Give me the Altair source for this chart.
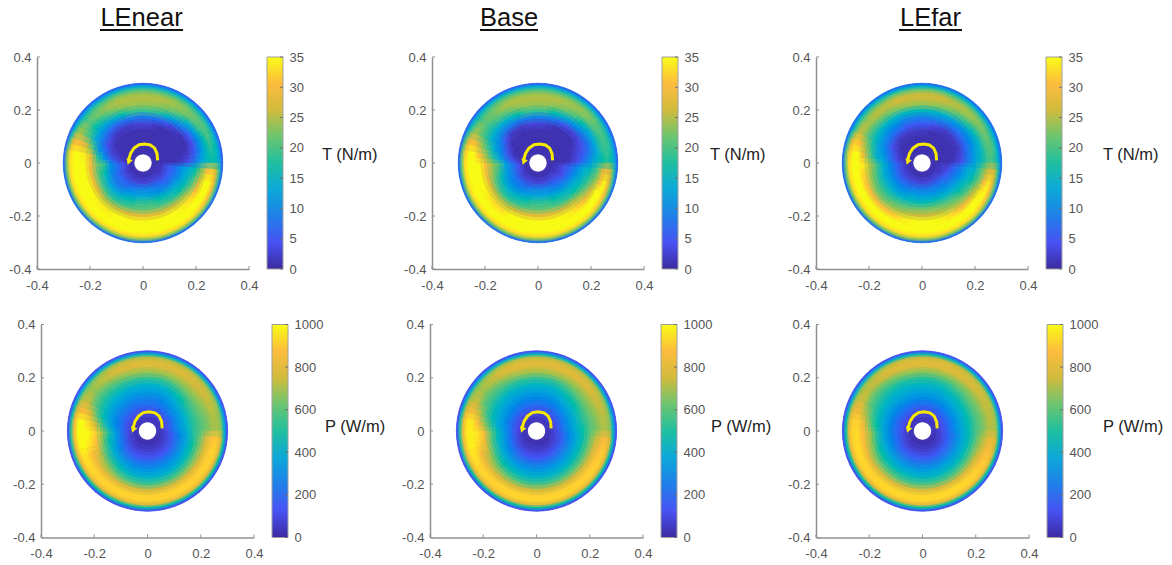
import altair as alt
import pandas as pd

FONT = "Liberation Sans"
# ring edges (radius), 36 sectors of 10 deg clockwise from 12 o'clock
edges = [0.034, 0.055, 0.08, 0.105, 0.13, 0.155, 0.18, 0.205, 0.23, 0.25, 0.265, 0.28, 0.292, 0.301]
parula = ["#3b2a9f", "#4852f4", "#1f80e9", "#0ca8d9", "#1fbfa0", "#6cc56f", "#d1bb3d", "#fdbc3d", "#f9fb15"]
parula_pos = [0, 0.125, 0.25, 0.375, 0.5, 0.625, 0.75, 0.875, 1]
t_stops = [0, 4.375, 8.75, 13.125, 17.5, 21.875, 26.25, 30.625, 35]
p_stops = [0, 125, 250, 375, 500, 625, 750, 875, 1000]
t_ticks = [0, 5, 10, 15, 20, 25, 30, 35]
p_ticks = [0, 200, 400, 600, 800, 1000]
axis_ticks = [-0.4, -0.2, 0, 0.2, 0.4]

arrow_x = [0.055, 0.053, 0.044, 0.028, 0.006, -0.015, -0.034, -0.047, -0.054]
arrow_y = [0.010, 0.035, 0.056, 0.068, 0.072, 0.069, 0.056, 0.036, 0.012]

T_LEnear = [
 [1]*36,
 [1,1,1,1,1,1,1,1,1, 2,2,2,2,3,3,3,3,3, 3,3,3,3,3,3,3,4,4, 2,1,1,1,1,1,1,1,1],
 [1,1,1,1,1,1,1,1,1, 5,5,5,5,6,7,8,9,9, 9,8,7,6,6,6,6,7,7, 3,2,1,1,1,1,1,1,1],
 [1,1,1,1,1,1,1,1,1, 7,7,8,8,9,10,11,12,13, 13,12,11,9,8,8,9,10,11, 6,3,2,1,1,1,1,1,1],
 [3,2,1,1,1,1,1,1,2, 11,11,12,14,15,16,17,18,18, 18,17,16,14,13,13,15,17,19, 11,7,4,3,2,2,2,3,3],
 [8,7,5,3,2,1,1,2,4, 14,15,16,17,18,19,20,21,21, 21,20,19,18,18,19,20,21,22, 18,11,8,7,6,6,7,8,8],
 [19,18,15,11,8,5,4,5,8, 17,19,21,24,25,26,27,28,28, 28,27,26,25,25,27,29,29,30, 28,20,13,12,12,14,17,19,19],
 [24,23,22,19,15,12,10,11,13, 23,26,30,33,34,35,35,36,36, 36,36,35,34,34,35,36,38,38, 34,26,19,17,18,21,23,24,24],
 [25,25,24,23,21,19,17,16,16, 31,35,37,38,38,38,38,38,38, 38,38,38,38,38,38,38,38,38, 37,30,22,20,22,24,25,25,25],
 [24,24,24,23,22,21,20,18,17, 32,37,38,38,38,38,38,38,38, 38,38,38,38,38,38,38,38,38, 37,31,24,21,22,23,24,24,24],
 [20,20,20,20,19,19,18,17,16, 27,30,31,32,33,33,33,33,33, 33,33,33,33,33,33,33,33,33, 33,28,22,18,19,19,20,20,20],
 [14,14,14,14,14,13,13,13,13, 19,20,21,22,22,22,22,23,23, 23,23,22,22,22,22,22,22,22, 23,19,15,13,13,13,14,14,14],
 [6,6,6,6,6,6,6,6,6, 7,7,7,7,7,7,7,7,7, 7,7,7,7,7,7,7,7,7, 6,6,6,6,6,6,6,6,6],
]
T_Base = [
 [1]*36,
 [1,1,1,1,1,1,1,1,1, 2,2,2,3,3,3,3,3,3, 3,3,3,3,3,3,4,4,4, 2,1,1,1,1,1,1,1,1],
 [1,1,1,1,1,1,1,1,1, 4,4,4,5,6,7,8,9,9, 9,8,7,7,7,7,8,8,8, 4,2,1,1,1,1,1,1,1],
 [1,1,1,1,1,1,1,1,2, 6,7,8,9,10,11,12,13,13, 13,12,11,10,10,10,11,12,13, 8,5,3,1,1,1,1,1,1],
 [3,2,1,1,1,1,2,3,4, 10,11,13,14,15,16,17,18,18, 18,17,16,15,14,15,16,18,20, 13,10,7,4,2,2,2,3,3],
 [9,8,6,4,3,3,4,5,7, 14,15,16,17,18,19,20,21,21, 21,20,19,18,18,19,21,23,24, 18,14,11,9,8,8,8,9,9],
 [19,17,15,12,10,8,7,8,11, 16,18,20,23,25,26,27,28,28, 28,27,26,25,25,26,28,29,30, 24,19,15,14,14,15,17,19,19],
 [24,23,22,20,17,14,13,13,15, 20,23,26,29,32,34,35,36,36, 36,36,35,33,33,34,35,37,38, 31,24,19,18,20,21,23,24,24],
 [25,25,24,23,22,20,18,18,17, 27,31,35,37,38,38,38,38,38, 38,38,38,38,38,38,38,38,38, 36,29,22,21,22,24,25,25,25],
 [24,24,24,24,23,21,20,19,18, 29,35,38,38,38,38,38,38,38, 38,38,38,38,38,38,38,38,38, 37,31,24,21,22,23,24,24,24],
 [20,20,20,20,20,19,18,18,17, 26,29,31,32,33,33,33,33,33, 33,33,33,33,33,33,33,33,33, 32,27,21,18,19,20,20,20,20],
 [14,14,14,14,14,13,13,13,13, 18,20,21,22,22,22,22,23,23, 23,23,22,22,22,22,22,21,21, 22,19,15,14,14,14,14,14,14],
 [6,6,6,6,6,6,6,6,6, 7,7,7,7,7,7,7,7,7, 7,7,7,7,7,7,7,7,7, 6,6,6,6,6,6,6,6,6],
]
T_LEfar = [
 [1]*36,
 [1,1,1,1,1,1,1,1,1, 2,2,2,3,3,3,3,3,3, 3,3,3,3,3,3,3,3,3, 2,1,1,1,1,1,1,1,1],
 [1,1,1,1,1,1,1,1,1, 3,4,5,6,7,7,8,8,8, 8,8,7,7,6,6,6,6,6, 4,3,2,1,1,1,1,1,1],
 [2,1,1,1,1,1,1,1,2, 6,7,8,9,10,11,11,12,12, 12,12,11,10,10,10,10,10,10, 8,6,4,3,2,2,2,2,2],
 [5,4,3,2,2,2,2,3,4, 9,10,12,13,14,15,16,16,16, 16,16,15,14,14,14,14,14,15, 12,10,8,7,6,6,5,5,5],
 [9,9,8,7,6,6,6,7,8, 13,14,16,17,19,20,21,22,22, 22,21,20,19,18,18,18,19,20, 15,13,12,11,10,10,9,9,9],
 [16,15,14,12,11,10,10,11,12, 15,17,19,21,23,24,25,26,26, 26,25,24,23,22,22,23,24,25, 21,18,16,15,15,15,15,16,16],
 [24,23,22,20,18,16,15,15,16, 20,22,25,28,30,32,34,35,35, 35,34,32,31,30,30,31,32,34, 29,24,20,20,21,22,23,24,24],
 [26,26,25,24,23,21,20,19,19, 25,30,34,37,38,38,38,38,38, 38,38,38,38,38,38,38,38,38, 36,30,24,24,25,25,26,26,26],
 [26,26,25,25,24,23,22,21,20, 28,34,37,38,38,38,38,38,38, 38,38,38,38,38,38,38,38,38, 37,32,26,24,25,25,26,26,26],
 [22,22,21,21,21,20,19,19,18, 26,29,31,32,33,33,33,33,33, 33,33,33,33,33,33,33,33,33, 32,28,22,21,21,21,22,22,22],
 [15,15,15,15,14,14,14,14,14, 18,20,21,22,22,22,22,23,23, 23,23,22,22,22,22,22,22,21, 22,19,15,15,15,15,15,15,15],
 [7,7,7,7,7,7,7,7,7, 7,7,7,7,7,7,7,7,7, 7,7,7,7,7,7,7,7,7, 7,7,7,7,7,7,7,7,7],
]
P_LEnear = [
 [50,50,50,50,50,50,50,50,50, 40,40,40,30,30,30,30,30,30, 30,30,30,30,30,40,40,40,40, 50,50,50,50,50,50,50,50,50],
 [110,110,110,110,120,120,120,120,120, 100,90,80,80,70,70,70,70,70, 70,70,70,70,70,80,90,100,110, 110,110,110,110,110,110,110,110,110],
 [190,190,190,200,210,210,210,220,220, 170,160,150,140,130,130,130,130,130, 130,130,130,140,150,170,190,210,220, 200,190,180,180,180,180,180,190,190],
 [260,260,270,290,310,310,320,320,320, 270,260,250,240,230,220,220,220,220, 220,220,230,240,250,280,310,340,360, 290,270,260,260,260,260,260,260,260],
 [340,340,350,370,400,410,420,420,420, 380,370,360,340,330,320,320,320,320, 320,320,330,350,370,400,440,480,510, 420,360,350,340,340,340,340,340,340],
 [420,420,440,460,490,510,510,510,510, 500,490,480,460,440,430,420,420,420, 420,430,440,470,500,530,590,650,700, 560,470,430,420,420,420,420,420,420],
 [530,530,550,570,590,600,600,580,580, 620,630,620,610,590,570,560,550,540, 550,560,580,620,660,700,770,880,920, 750,580,510,500,500,510,520,530,530],
 [690,690,690,690,690,680,660,640,640, 780,790,790,790,790,780,770,770,770, 770,780,790,800,810,830,880,960,1000, 930,760,620,590,610,640,670,690,690],
 [780,780,780,770,760,740,720,700,690, 890,910,910,910,910,920,920,920,920, 920,920,920,920,920,930,950,1000,1000, 1000,860,720,670,700,740,770,780,780],
 [790,790,790,780,770,750,730,710,700, 900,930,920,920,920,920,920,920,920, 920,920,920,920,920,930,950,990,1000, 1000,860,730,690,720,760,780,790,790],
 [720,720,720,710,700,690,680,660,650, 800,810,810,810,810,810,800,800,800, 800,800,800,810,810,820,830,850,860, 860,760,670,640,660,690,710,720,720],
 [430,430,430,430,420,410,400,400,390, 480,490,490,490,490,480,480,480,480, 480,480,480,490,490,490,500,510,510, 510,460,400,390,400,410,420,430,430],
 [130]*36,
]
P_Base = [
 [50,50,50,50,50,50,50,50,50, 40,40,40,30,30,30,30,30,30, 30,30,30,30,30,40,40,40,40, 50,50,50,50,50,50,50,50,50],
 [110,110,110,110,110,110,110,110,110, 100,90,80,80,70,70,70,70,70, 70,70,70,70,70,80,90,100,110, 110,110,110,110,110,110,110,110,110],
 [190,190,190,190,200,200,210,210,210, 170,160,150,150,140,140,130,130,130, 130,130,140,150,160,170,190,200,210, 200,190,190,190,190,190,190,190,190],
 [270,270,270,280,300,310,310,310,310, 270,260,250,250,240,240,230,230,230, 230,230,240,250,260,280,300,320,340, 300,290,280,280,270,270,270,270,270],
 [350,350,360,370,390,400,410,410,410, 370,370,360,350,340,340,330,330,330, 330,330,340,350,370,390,420,450,470, 400,380,370,360,350,350,350,350,350],
 [430,430,440,460,480,490,500,500,490, 470,470,470,460,450,440,430,430,430, 430,440,450,470,490,520,560,600,630, 520,470,450,440,430,430,430,430,430],
 [530,530,540,560,580,590,590,580,570, 590,600,600,590,580,570,560,550,550, 550,560,580,610,640,680,740,830,870, 680,570,530,520,520,520,520,530,530],
 [700,700,690,690,680,680,670,650,640, 730,750,760,770,780,770,760,760,760, 760,770,780,790,800,820,860,930,960, 880,720,620,600,620,650,680,700,700],
 [790,790,790,780,770,750,730,710,700, 840,880,900,910,910,920,920,920,920, 920,920,920,920,920,920,950,980,980, 970,840,720,680,710,750,780,790,790],
 [800,800,790,790,780,760,740,720,710, 870,910,920,920,920,920,930,930,930, 930,930,920,920,920,930,950,970,970, 970,850,730,700,730,770,790,800,800],
 [730,730,720,720,710,700,680,670,660, 780,800,810,810,810,810,810,810,810, 810,810,810,810,810,810,830,840,840, 840,750,670,650,670,700,720,730,730],
 [440,440,430,430,420,420,410,400,400, 470,480,490,490,490,490,490,490,490, 490,490,490,490,490,490,500,500,500, 500,450,400,400,410,420,430,440,440],
 [130]*36,
]
P_LEfar = [
 [50,50,50,50,50,50,50,50,50, 40,40,40,30,30,30,30,30,30, 30,30,30,30,30,40,40,40,40, 50,50,50,50,50,50,50,50,50],
 [110,110,110,110,110,110,110,110,110, 100,90,80,80,70,70,70,70,70, 70,70,70,70,70,80,90,100,110, 110,110,110,110,110,110,110,110,110],
 [190,190,190,190,190,190,190,190,190, 170,160,160,150,150,140,140,140,140, 140,140,140,150,150,160,170,180,180, 180,180,180,190,190,190,190,190,190],
 [280,280,280,280,290,290,290,290,290, 260,260,250,250,250,240,240,240,240, 240,240,240,250,250,260,270,270,270, 270,270,270,270,270,280,280,280,280],
 [360,360,360,370,370,380,380,380,380, 360,360,360,350,350,350,340,340,340, 340,340,350,350,360,370,370,380,380, 370,360,360,360,360,360,360,360,360],
 [430,430,440,450,460,470,470,470,470, 460,460,460,460,450,450,440,440,440, 440,450,450,460,470,480,490,500,510, 490,460,450,440,430,430,430,430,430],
 [510,510,520,540,550,560,560,550,550, 560,580,590,590,580,570,570,560,560, 560,560,570,590,600,620,650,680,700, 620,560,520,510,500,500,500,510,510],
 [670,670,660,660,650,650,640,630,630, 690,720,750,770,780,780,780,780,780, 780,780,780,780,790,800,830,860,870, 830,700,620,600,610,630,650,670,670],
 [780,780,780,770,750,730,720,700,700, 790,840,880,910,920,930,930,930,930, 930,930,930,930,920,920,930,940,940, 920,830,730,700,720,750,770,780,780],
 [800,800,790,780,770,760,740,730,720, 830,880,910,920,930,930,930,930,930, 930,930,930,930,920,930,930,930,930, 920,840,750,730,750,780,790,800,800],
 [740,740,730,730,720,710,700,690,680, 770,790,810,820,820,820,820,820,820, 820,820,820,820,820,820,820,820,820, 820,750,690,680,690,710,730,740,740],
 [450,450,440,440,430,430,420,420,410, 470,480,490,490,490,490,490,490,490, 490,490,490,490,490,490,490,490,490, 490,450,420,420,420,430,440,450,450],
 [130]*36,
]


def panel(rings, stops, w, h, col_title=None):
    rows = []
    n = len(rings)
    for i, ring in enumerate(rings):
        mid0 = (edges[i] + edges[i + 1]) / 2
        mid1 = (edges[i + 1] + edges[i + 2]) / 2 if i + 2 <= n else edges[i + 1]
        for k, v in enumerate(ring):
            rows.append({"r0": edges[i], "r1": edges[i + 1], "m0": mid0, "m1": mid1,
                         "t0": k * 10, "t1": (k + 1) * 10, "s0": k * 10 + 5, "s1": (k + 1) * 10 + 5, "v": v})
    df = pd.DataFrame(rows)
    cscale = alt.Scale(domain=stops, range=parula, clamp=True)
    th = alt.Scale(domain=[0, 360], range=[0, 6.283185])
    rs = alt.Scale(type="linear", domain=[0, 0.4], range=[0, h / 2])

    def arc_layer(a0, a1, b0, b1, opacity, stroked):
        enc = dict(
            theta=alt.Theta(a0 + ":Q", stack=False, scale=th),
            theta2=a1 + ":Q",
            radius=alt.Radius(b1 + ":Q", scale=rs),
            radius2=b0 + ":Q",
            color=alt.Color("v:Q", scale=cscale, legend=None),
        )
        if stroked:
            enc["stroke"] = alt.Stroke("v:Q", scale=cscale, legend=None)
        return alt.Chart(df).mark_arc(opacity=opacity, strokeWidth=0.7 if stroked else 0).encode(**enc)

    ax = dict(values=axis_ticks, grid=False, tickSize=0, title=None, labelExpr="'' + datum.value",
              labelFontSize=13, labelColor="#555555", labelFont=FONT, domainColor="#909090",
              domainWidth=1.5, labelFlush=False, labelOverlap=False)
    tdf = pd.DataFrame({"t": axis_ticks})
    xscale = alt.Scale(domain=[-0.4, 0.4], nice=False)
    yscale = alt.Scale(domain=[-0.4, 0.4], nice=False)
    xt = alt.Chart(tdf).mark_rule(color="#909090").encode(
        x=alt.X("t:Q", scale=xscale, axis=alt.Axis(labelPadding=10, **ax)),
        y=alt.value(h), y2=alt.value(h - 3))
    yt = alt.Chart(tdf).mark_rule(color="#909090").encode(
        y=alt.Y("t:Q", scale=yscale, axis=alt.Axis(labelPadding=6, **ax)),
        x=alt.value(0), x2=alt.value(3))
    adf = pd.DataFrame({"x": arrow_x, "y": arrow_y, "o": range(len(arrow_x))})
    line = alt.Chart(adf).mark_line(color="#f7ea00", strokeWidth=3).encode(
        x=alt.X("x:Q", scale=xscale), y=alt.Y("y:Q", scale=yscale), order="o:Q")
    head = alt.Chart(pd.DataFrame({"x": [arrow_x[-1]], "y": [arrow_y[-1] - 0.008]})).mark_point(
        shape="triangle-down", filled=True, size=45, angle=20, color="#f7ea00", opacity=1).encode(
        x=alt.X("x:Q", scale=xscale), y=alt.Y("y:Q", scale=yscale))
    layers = [
        arc_layer("t0", "t1", "r0", "r1", 1, True),
        arc_layer("s0", "s1", "r0", "r1", 0.5, False),
        arc_layer("t0", "t1", "m0", "m1", 0.33, False),
        arc_layer("s0", "s1", "m0", "m1", 0.25, False),
        xt, yt, line, head,
    ]
    if col_title:
        name, cx, half = col_title
        tx = alt.Chart(pd.DataFrame({"n": [name]})).mark_text(
            font=FONT, fontSize=25.5, color="#111111", baseline="alphabetic", align="center").encode(
            text="n:N", x=alt.value(cx), y=alt.value(-31.5))
        ul = alt.Chart(pd.DataFrame({"n": [name]})).mark_rule(color="#111111", strokeWidth=2).encode(
            x=alt.value(cx - half), x2=alt.value(cx + half), y=alt.value(-27))
        layers += [tx, ul]
    return alt.layer(*layers).properties(width=w, height=h)


def colorbar(stops, ticks, title, h, tx, ty):
    yscale = alt.Scale(domain=[stops[0], stops[-1]], nice=False)
    grad = alt.Gradient(gradient="linear", x1=0, x2=0, y1=1, y2=0,
                        stops=[alt.GradientStop(color=c, offset=o) for c, o in zip(parula, parula_pos)])
    yaxis = alt.Axis(orient="right", values=ticks, grid=False, domain=False, tickSize=0, title=None,
                     labelFontSize=13, labelColor="#555555", labelFont=FONT, labelPadding=6,
                     format="d", labelOverlap=False, labelFlush=False)
    bar = alt.Chart(pd.DataFrame({"lo": [stops[0]], "hi": [stops[-1]]})).mark_rect(
        color=grad, stroke="#a0a0a0", strokeWidth=1).encode(
        y=alt.Y("lo:Q", scale=yscale, axis=yaxis),
        y2="hi:Q", x=alt.value(0), x2=alt.value(16))
    marks = alt.Chart(pd.DataFrame({"t": ticks})).mark_rule(color="#707070").encode(
        y=alt.Y("t:Q", scale=yscale, axis=yaxis), x=alt.value(13), x2=alt.value(16))
    text = alt.Chart(pd.DataFrame({"n": [title]})).mark_text(
        font=FONT, fontSize=16.5, color="#222222", align="left", baseline="middle").encode(
        text="n:N", x=alt.value(tx), y=alt.value(ty))
    return alt.layer(bar, marks, text).properties(width=16, height=h)


def spacer(w):
    return alt.Chart(pd.DataFrame({"a": [0]})).mark_point(opacity=0).encode(
        x=alt.value(0), y=alt.value(0)).properties(width=w, height=1)


W1, H1, W2, H2 = 212, 212, 213, 213
row1 = alt.hconcat(
    panel(T_LEnear, t_stops, W1, H1, ("LEnear", 104.5, 41.5)), spacer(18),
    colorbar(t_stops, t_ticks, "T (N/m)", H1, 55, 97.5), spacer(149),
    panel(T_Base, t_stops, W1, H1, ("Base", 77, 29)), spacer(18),
    colorbar(t_stops, t_ticks, "T (N/m)", H1, 48, 97.5), spacer(138),
    panel(T_LEfar, t_stops, W1, H1, ("LEfar", 114.5, 31.5)), spacer(18),
    colorbar(t_stops, t_ticks, "T (N/m)", H1, 57, 97.5),
    spacing=0, bounds="flush")
row2 = alt.hconcat(
    spacer(4),
    panel(P_LEnear, p_stops, W2, H2), spacer(18),
    colorbar(p_stops, p_ticks, "P (W/m)", H2, 53, 102.5), spacer(142),
    panel(P_Base, p_stops, W2, H2), spacer(18),
    colorbar(p_stops, p_ticks, "P (W/m)", H2, 50, 102.5), spacer(139),
    panel(P_LEfar, p_stops, W2, H2), spacer(18),
    colorbar(p_stops, p_ticks, "P (W/m)", H2, 56, 102.5),
    spacing=0, bounds="flush")
chart = alt.vconcat(row1, row2, spacing=26.5).resolve_scale(
    color="independent", stroke="independent"
).properties(
    padding={"left": 0, "top": -3, "right": 0, "bottom": 0}
).configure(font=FONT).configure_view(stroke=None)
chart.save("out.html", embed_options={"renderer": "svg", "actions": False})
